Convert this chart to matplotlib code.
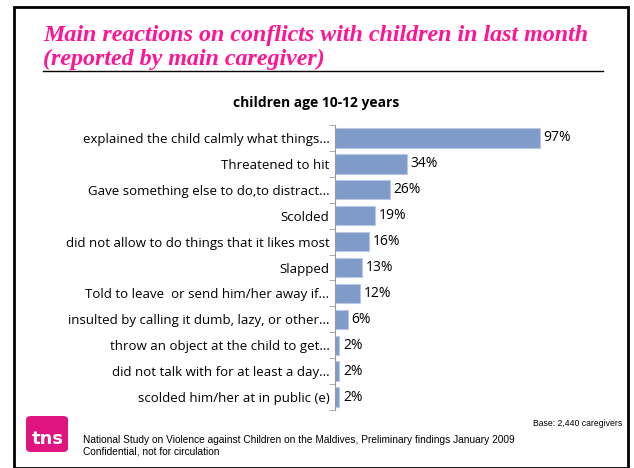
import numpy as np
import matplotlib.pyplot as plt
from matplotlib.patches import FancyBboxPatch, Rectangle

categories = [
    "explained the child calmly what things...",
    "Threatened to hit",
    "Gave something else to do,to distract...",
    "Scolded",
    "did not allow to do things that it likes most",
    "Slapped",
    "Told to leave  or send him/her away if...",
    "insulted by calling it dumb, lazy, or other...",
    "throw an object at the child to get...",
    "did not talk with for at least a day...",
    "scolded him/her at in public (e)",
]
values = [97, 34, 26, 19, 16, 13, 12, 6, 2, 2, 2]

fig = plt.figure(figsize=(6.34, 4.68), dpi=100)
W, H = 634, 468

def fx(x):
    return x / W

def fy(y):
    return 1 - y / H

# frame around slide
fig.patches.append(Rectangle((fx(14), fy(468)), fx(614), fy(7) - fy(468),
                             transform=fig.transFigure, fill=False,
                             edgecolor="black", linewidth=2))

title_color = "#FF1493"
fig.text(fx(43), fy(41), "Main reactions on conflicts with children in last month",
         color=title_color, fontsize=17.3, fontweight="bold", fontstyle="italic",
         family="Liberation Serif", va="baseline")
fig.text(fx(43), fy(65), "(reported by main caregiver)",
         color=title_color, fontsize=17.3, fontweight="bold", fontstyle="italic",
         family="Liberation Serif", va="baseline")
fig.add_artist(plt.Line2D([fx(43), fx(603)], [fy(71), fy(71)],
                          transform=fig.transFigure, color="black", linewidth=1))

fig.text(fx(316), fy(103), "children age 10-12 years", ha="center", va="center",
         fontsize=10, fontweight="bold", family="Open Sans")

ax = fig.add_axes([fx(335), fy(410), fx(211), fy(125) - fy(410)])
y = np.arange(len(categories))
ax.barh(y, values, height=0.75, color="#7E9BCA", edgecolor="#B9C9E3", linewidth=0.8)
ax.set_xlim(0, 100)
ax.set_ylim(len(categories) - 0.5, -0.5)
ax.set_yticks(y)
ax.set_yticklabels(categories, fontsize=9.5, family="Open Sans")
ax.tick_params(axis="y", length=0, pad=4)
ax.set_yticks(np.arange(len(categories) + 1) - 0.5, minor=True)
ax.tick_params(axis="y", which="minor", length=4, color="#999999", direction="out")
ax.set_xticks([])
for s in ["top", "right", "bottom"]:
    ax.spines[s].set_visible(False)
ax.spines["left"].set_color("#999999")
for yi, v in zip(y, values):
    ax.text(v + 1.8, yi, f"{v}%", va="center", ha="left", fontsize=10,
            family="Open Sans")

# logo
fig.patches.append(FancyBboxPatch((fx(26), fy(452)), fx(42), fy(416) - fy(452),
                                  boxstyle="round,pad=0,rounding_size=0.008",
                                  transform=fig.transFigure,
                                  facecolor="#E0147F", edgecolor="none"))
fig.text(fx(48), fy(439), "tns", color="white", fontsize=13, ha="center",
         va="center", family="DejaVu Sans", fontweight="bold")

fig.text(fx(622), fy(424), "Base: 2,440 caregivers", ha="right", va="center",
         fontsize=6.2, family="Liberation Sans")
fig.text(fx(83), fy(440), "National Study on Violence against Children on the Maldives, Preliminary findings January 2009",
         ha="left", va="center", fontsize=7.3, family="Liberation Sans")
fig.text(fx(83), fy(452), "Confidential, not for circulation",
         ha="left", va="center", fontsize=7.3, family="Liberation Sans")

fig.savefig("out.png", dpi=100, facecolor="white")
